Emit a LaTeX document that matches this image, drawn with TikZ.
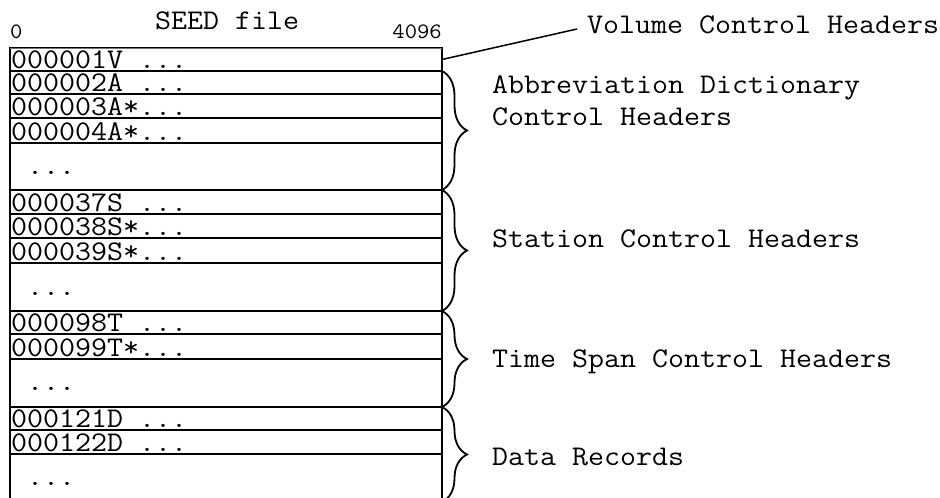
\documentclass[tikz,border=0pt]{standalone}
\usepackage{fontspec}
\setmonofont[FakeStretch=1.09]{Latin Modern Mono}
\usetikzlibrary{decorations.pathreplacing,calc}

\begin{document}
\begin{tikzpicture}[x=1pt,y=-1pt,
  rowbox/.style={draw, line width=1.5pt, minimum width=432pt, inner sep=0pt, outer sep=0pt, anchor=north west},
  rowtext/.style={font=\ttfamily\fontsize{28.5}{30}\selectfont, inner sep=0pt, anchor=base west},
  bigtext/.style={font=\ttfamily\fontsize{28.5}{32}\selectfont, inner sep=0pt, anchor=base west, align=left},
  smalltext/.style={font=\ttfamily\fontsize{22}{22}\selectfont, inner sep=0pt},
  grp/.style={decorate, decoration={brace, amplitude=25pt}, line width=1.8pt}]
\useasboundingbox (0,0) rectangle (940,498);
\begin{scope}
\clip (0,0) rectangle (940,498);
% file records, one box per record
\node[rowbox, minimum height=23pt] (r1)  at (10,48)  {};
\node[rowbox, minimum height=23pt] (r2)  at (10,71)  {};
\node[rowbox, minimum height=24pt] (r3)  at (10,94)  {};
\node[rowbox, minimum height=25pt] (r4)  at (10,118) {};
\node[rowbox, minimum height=47pt] (r5)  at (10,143) {};
\node[rowbox, minimum height=24pt] (r6)  at (10,190) {};
\node[rowbox, minimum height=24pt] (r7)  at (10,214) {};
\node[rowbox, minimum height=25pt] (r8)  at (10,238) {};
\node[rowbox, minimum height=48pt] (r9)  at (10,263) {};
\node[rowbox, minimum height=23pt] (r10) at (10,311) {};
\node[rowbox, minimum height=25pt] (r11) at (10,334) {};
\node[rowbox, minimum height=48pt] (r12) at (10,359) {};
\node[rowbox, minimum height=23pt] (r13) at (10,407) {};
\node[rowbox, minimum height=24pt] (r14) at (10,430) {};
\node[rowbox, minimum height=48pt] (r15) at (10,454) {};
% heavier side walls of the file
\draw[line width=2pt] (r1.north west) -- (10,510);
\draw[line width=2pt] (r1.north east) -- (442,510);
\draw[line width=1pt, white!45!black] (r1.north west) -- (r1.north east);
\end{scope}

% record labels
\node[rowtext] (t1)  at (11,68)  {000001V ...};
\node[rowtext] (t2)  at (11,91)  {000002A ...};
\node[rowtext] (t3)  at (11,115) {000003A*...};
\node[rowtext] (t4)  at (11,140) {000004A*...};
\node[rowtext] (t5)  at (11,174) {\ ...};
\node[rowtext] (t6)  at (11,211) {000037S ...};
\node[rowtext] (t7)  at (11,235) {000038S*...};
\node[rowtext] (t8)  at (11,260) {000039S*...};
\node[rowtext] (t9)  at (11,295) {\ ...};
\node[rowtext] (t10) at (11,331) {000098T ...};
\node[rowtext] (t11) at (11,356) {000099T*...};
\node[rowtext] (t12) at (11,390) {\ ...};
\node[rowtext] (t13) at (11,427) {000121D ...};
\node[rowtext] (t14) at (11,451) {000122D ...};
\node[rowtext] (t15) at (11,485) {\ ...};

% title and byte scale
\node[rowtext] (title) at (155,29) {SEED file};
\node[smalltext, anchor=base west] (lo) at (10,38) {0};
\node[smalltext, anchor=base east] (hi) at (442,38) {4096};

% group braces
\draw[grp] (r2.north east) -- (r5.south east);
\draw[grp] (r6.north east) -- (r9.south east);
\draw[grp] (r10.north east) -- (r12.south east);
\draw[grp] (r13.north east) -- (r15.south east);

% group names
\coordinate (vend) at (577,29);
\node[bigtext] (vch) at (587,33) {Volume Control Headers};
\draw[line width=1.5pt] (r1.east) -- (vend);
\node[bigtext] (adh) at (492,125) {Abbreviation Dictionary\\Control Headers};
\node[bigtext] (sch) at (492,247) {Station Control Headers};
\node[bigtext] (tsh) at (492,367) {Time Span Control Headers};
\node[bigtext] (dr)  at (492,465) {Data Records};
\end{tikzpicture}
\end{document}
